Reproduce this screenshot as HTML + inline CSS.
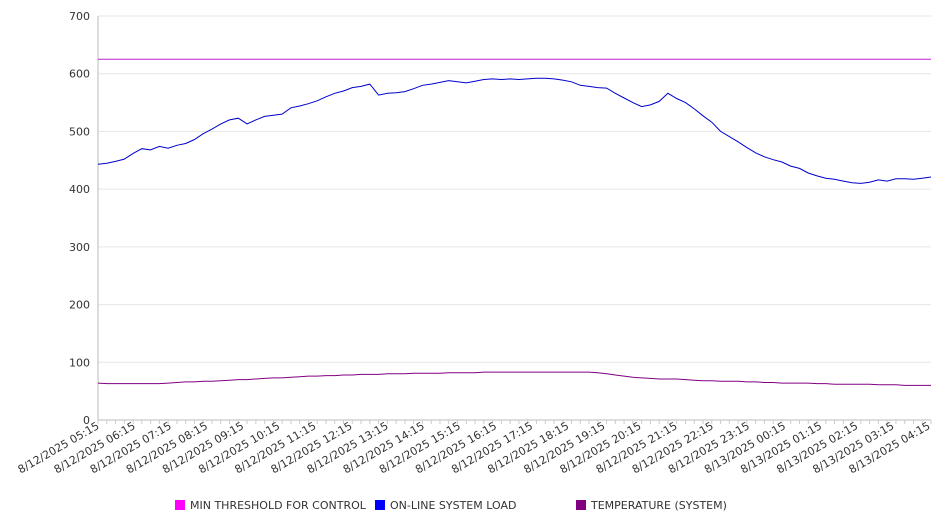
<!DOCTYPE html>
<html><head><meta charset="utf-8"><style>
body{margin:0;background:#fff;font-family:"DejaVu Sans","Liberation Sans",sans-serif}
svg{display:block}
</style></head><body>
<svg id="chart" width="946" height="526" xmlns="http://www.w3.org/2000/svg" font-family="DejaVu Sans, Liberation Sans, sans-serif"></svg>
<script>
const yTicks=[0,100,200,300,400,500,600,700];
const xLabels=["8/12/2025 05:15","8/12/2025 06:15","8/12/2025 07:15","8/12/2025 08:15","8/12/2025 09:15","8/12/2025 10:15","8/12/2025 11:15","8/12/2025 12:15","8/12/2025 13:15","8/12/2025 14:15","8/12/2025 15:15","8/12/2025 16:15","8/12/2025 17:15","8/12/2025 18:15","8/12/2025 19:15","8/12/2025 20:15","8/12/2025 21:15","8/12/2025 22:15","8/12/2025 23:15","8/13/2025 00:15","8/13/2025 01:15","8/13/2025 02:15","8/13/2025 03:15","8/13/2025 04:15"];
const thresholdValue=625;
const loadValues=[443,445,448,452,462,470,468,474,471,476,479,486,496,504,513,520,523,513,520,526,528,530,541,544,548,553,560,566,570,576,578,582,563,566,567,569,574,580,582,585,588,586,584,587,590,591,590,591,590,591,592,592,591,589,586,580,578,576,575,566,558,550,543,546,552,566,557,550,539,527,516,500,491,482,472,463,456,451,447,440,436,428,423,419,417,414,411,410,412,416,414,418,418,417,419,421];
const tempValues=[64,63,63,63,63,63,63,63,64,65,66,66,67,67,68,69,70,70,71,72,73,73,74,75,76,76,77,77,78,78,79,79,79,80,80,80,81,81,81,81,82,82,82,82,83,83,83,83,83,83,83,83,83,83,83,83,83,82,80,78,76,74,73,72,71,71,71,70,69,68,68,67,67,67,66,66,65,65,64,64,64,64,63,63,62,62,62,62,62,61,61,61,60,60,60,60];
const legendNames=["MIN THRESHOLD FOR CONTROL","ON-LINE SYSTEM LOAD","TEMPERATURE (SYSTEM)"];

const NS="http://www.w3.org/2000/svg";
const svg=document.getElementById('chart');
const X0=98,X1=931,Y0=420,Y1=16;
const N=loadValues.length;
const STEP=(X1-X0)/(N-1);
const LSTEP=(929-X0)/(xLabels.length-1);
const yS=v=>Y0-(v/700)*(Y0-Y1);
const xS=i=>X0+i*STEP;
function mk(t,a,p){const e=document.createElementNS(NS,t);for(const k in a)e.setAttribute(k,a[k]);(p||svg).appendChild(e);return e;}

yTicks.forEach(v=>{
  const g=mk('line',{x1:X0,x2:X1,y1:yS(v),y2:yS(v),stroke:v===0?'#bbb':'#e6e6e6','stroke-width':1});
  
  
  const t=mk('text',{x:90,y:yS(v)+4,'text-anchor':'end','font-size':11,fill:'#333'});
  t.textContent=v;
  
  
});
const ax=mk('line',{x1:X0,x2:X0,y1:Y1,y2:Y0,stroke:'#bbb'});


for(let i=0;i<N;i++){
  const tk=mk('line',{x1:xS(i),x2:xS(i),y1:Y0,y2:Y0+4,stroke:'#ccc'});
  
  
}
xLabels.forEach((l,i)=>{
  const x=X0+i*LSTEP+2;
  const t=mk('text',{x:x,y:Y0+8,'text-anchor':'end','font-size':11,fill:'#333',transform:`rotate(-30 ${x} ${Y0+8})`});
  t.textContent=l;
  
  
});
function line(vals,color,name){
  const d=vals.map((v,i)=>(i?'L':'M')+xS(i).toFixed(1)+','+yS(v).toFixed(1)).join('');
  const p=mk('path',{d:d,fill:'none',stroke:color,'stroke-width':1});
  
  
}
line(loadValues.map(()=>thresholdValue),'#c020d0','threshold-line');
line(tempValues,'#800080','temperature-line');
line(loadValues,'#0000cc','load-line');

const lx=[175,375,576],lc=['#ff00ff','#0000ff','#800080'];
legendNames.forEach((n,i)=>{
  const g=mk('g',{});
  
  
  mk('rect',{x:lx[i],y:500,width:10,height:10,fill:lc[i]},g);
  const t=mk('text',{x:lx[i]+15,y:509,'font-size':11,fill:'#333'},g);
  t.textContent=n;
});
</script>
</body></html>
